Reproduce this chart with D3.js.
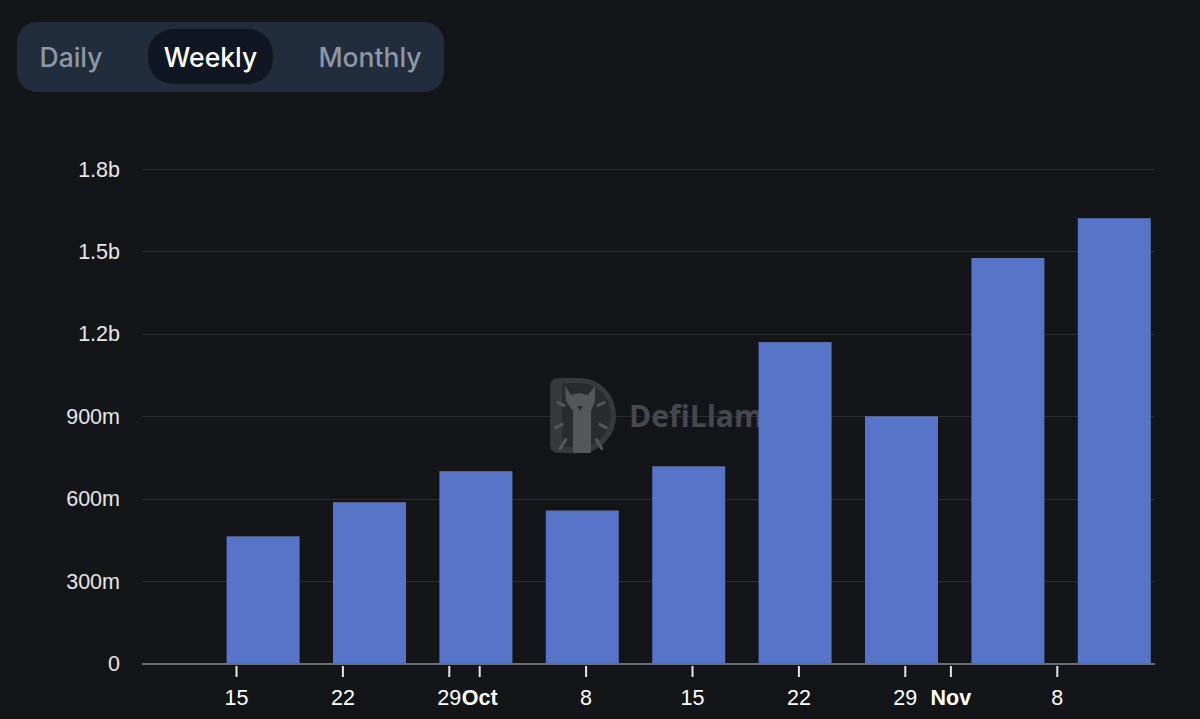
<!DOCTYPE html>
<html><head><meta charset="utf-8">
<script src="https://cdn.jsdelivr.net/npm/d3@7/dist/d3.min.js"></script>
<style>
html,body{margin:0;padding:0;background:#141519;}
svg{display:block;}
</style></head>
<body>
<svg id="c" width="1200" height="719"></svg>
<script>
// ---- data ----
const weeks = ["2025-09-16T18:00","2025-09-23T18:00","2025-09-30T18:00","2025-10-07T18:00","2025-10-14T18:00","2025-10-21T18:00","2025-10-28T18:00","2025-11-04T18:00","2025-11-11T18:00"];
const volumes = [463e6, 587e6, 700e6, 557e6, 718e6, 1170e6, 900e6, 1476e6, 1621e6];
const yTicks = [0, 300e6, 600e6, 900e6, 1.2e9, 1.5e9, 1.8e9];
const yTickLabels = ["0","300m","600m","900m","1.2b","1.5b","1.8b"];
const xTicks = ["2025-09-15","2025-09-22","2025-09-29","2025-10-01","2025-10-08","2025-10-15","2025-10-22","2025-10-29","2025-11-01","2025-11-08"];
const xTickLabels = ["15","22","29","Oct","8","15","22","29","Nov","8"];
const toggles = ["Daily","Weekly","Monthly"];
const selectedToggle = "Weekly";

const svg = d3.select("#c");
const W = 1200, H = 719;
svg.append("rect").attr("width",W).attr("height",H).attr("fill","#141519");

// ---- toggle ----
const tg = svg.append("g");
tg.append("rect").attr("x",17).attr("y",22).attr("width",427).attr("height",70).attr("rx",20).attr("fill","#212c3d");
tg.append("rect").attr("x",148).attr("y",29).attr("width",125).attr("height",55).attr("rx",25).attr("fill","#111722");
const tx = [71, 210.5, 370];
toggles.forEach((t,i)=>{
  tg.append("text").attr("x",tx[i]).attr("y",67).attr("text-anchor","middle")
    .attr("font-family","Inter, 'Noto Sans', sans-serif").attr("font-size",26.5).attr("font-weight",500)
    .attr("fill", t===selectedToggle ? "#ffffff" : "#8e97a6").text(t);
});

// ---- scales ----
const parse = d3.isoParse;
const x = d3.scaleUtc()
  .domain([parse("2025-09-15T00:00Z"), parse("2025-10-01T00:00Z")])
  .range([236.5, 479.7]);
const y = d3.scaleLinear().domain([0, 1.8e9]).range([663.5, 169]);
const left = 142, right = 1155;

// grid
svg.append("g").selectAll("line").data(yTicks.slice(1)).join("line")
  .attr("x1",left).attr("x2",right)
  .attr("y1",d=>Math.round(y(d))+0.5).attr("y2",d=>Math.round(y(d))+0.5)
  .attr("stroke","#2a2c32").attr("stroke-width",1);

// y labels
svg.append("g").selectAll("text").data(yTicks).join("text")
  .attr("x",120).attr("y",d=>y(d)+7.5).attr("text-anchor","end")
  .attr("font-family","'Liberation Sans', Arial, sans-serif").attr("font-size",21.5)
  .attr("fill","#e6e6e6").text((d,i)=>yTickLabels[i]);

// watermark
const wm = svg.append("g").attr("transform","translate(550,378)");
wm.append("path").attr("d","M8,0 H30 A36,37.5 0 0 1 30,75 H8 A8,8 0 0 1 0,67 V8 A8,8 0 0 1 8,0 Z").attr("fill","#38393d");
wm.append("path").attr("d","M12,5 H30 A31,32 0 0 1 61,37 A31,32 0 0 1 30,69 H12 Z").attr("fill","#2a2b2f");
wm.append("path").attr("d","M15,8 L21,17 L29,15 L38,17 L45,8 L45,23 L41,33 L41,75 L23,75 L23,33 L16,23 Z").attr("fill","#55565a");
wm.append("path").attr("d","M27,28 L33,28 L30,33 Z").attr("fill","#2a2b2f");
[[-20,-10],[-22,12],[-18,30],[20,-10],[22,12],[18,30]].forEach(([dx,dy])=>{
  wm.append("line").attr("x1",31+dx*0.85).attr("y1",36+dy*0.85).attr("x2",31+dx*1.15).attr("y2",36+dy*1.15)
    .attr("stroke","#55565a").attr("stroke-width",3).attr("stroke-linecap","round");
});
svg.append("text").attr("x",629).attr("y",427).attr("font-family","'Open Sans', 'DejaVu Sans', sans-serif")
  .attr("font-weight",700).attr("font-size",30).attr("fill","#47484d").text("DefiLlama");

// bars
const barW = 73;
svg.append("g").selectAll("rect").data(volumes).join("rect")
  .attr("x",(d,i)=>x(parse(weeks[i]+"Z")) - barW/2)
  .attr("width",barW)
  .attr("y",d=>y(d))
  .attr("height",d=>y(0)-y(d))
  .attr("fill","#5874c8");

// x axis
svg.append("line").attr("x1",left).attr("x2",right).attr("y1",664).attr("y2",664)
  .attr("stroke","#6b6d72").attr("stroke-width",2);
const xt = svg.append("g").selectAll("g").data(xTicks).join("g")
  .attr("transform",d=>`translate(${x(parse(d+"T00:00Z"))},0)`);
xt.append("line").attr("y1",666).attr("y2",677).attr("stroke","#e6e6e6").attr("stroke-width",2);
xt.append("text").attr("y",705).attr("text-anchor","middle")
  .attr("font-family","'Liberation Sans', Arial, sans-serif").attr("font-size",21.5)
  .attr("font-weight",(d,i)=>isNaN(+xTickLabels[i]) ? 700 : 400)
  .attr("fill","#ffffff").text((d,i)=>xTickLabels[i]);
</script>
</body></html>
